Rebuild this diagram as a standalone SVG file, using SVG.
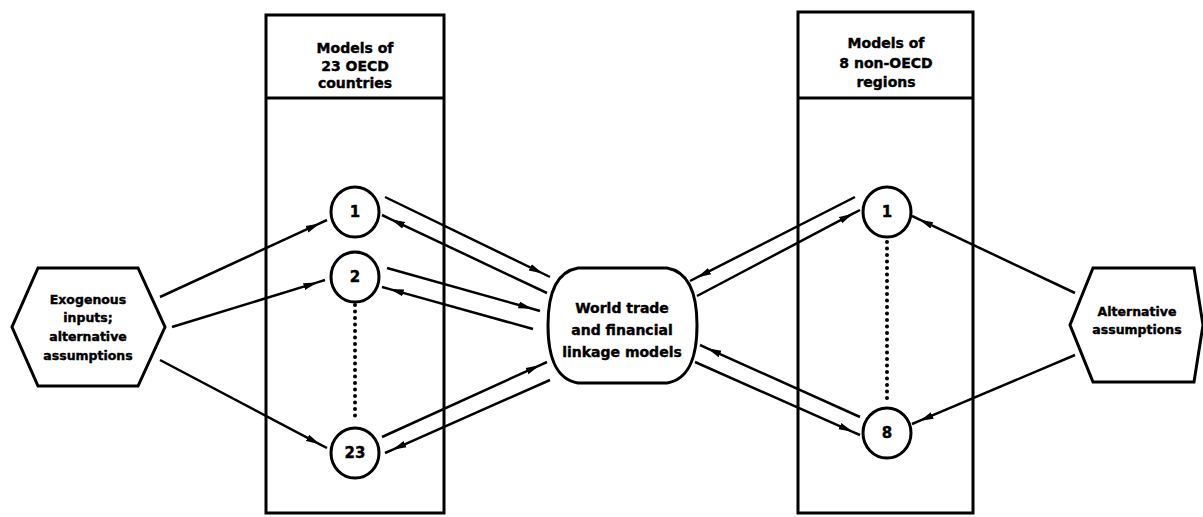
<svg xmlns="http://www.w3.org/2000/svg" width="1203" height="517" viewBox="0 0 1203 517">
<style>
.box{fill:none;stroke:#000;stroke-width:3}
.node{fill:#fff;stroke:#000;stroke-width:3}
.t{font-family:"DejaVu Sans","Liberation Sans",sans-serif;font-weight:bold;fill:#000;stroke:#000;stroke-width:0.4;text-anchor:middle}
.hdr{font-size:14px}
.sm{font-size:12.5px}
.num{font-size:15px}
.c{fill:none;stroke:#000;stroke-width:2.5;marker-mid:url(#ah)}
.dots{fill:none;stroke:#000;stroke-width:4;stroke-linecap:round;stroke-dasharray:0 6.5}
</style>
<defs>
<marker id="ah" markerUnits="userSpaceOnUse" markerWidth="16" markerHeight="10" viewBox="-14 -5 16 10" refX="0" refY="0" orient="auto">
<path d="M-14,-3.5 L0,0 L-14,3.5 Z" fill="#000"/>
</marker>
</defs>
<rect width="1203" height="517" fill="#fff"/>

<g id="oecd-box">
<rect class="box" x="266" y="15" width="178" height="498"/>
<line class="box" x1="266" y1="98" x2="444" y2="98"/>
<text class="t hdr" x="355" y="53">Models of</text>
<text class="t hdr" x="355" y="71">23 OECD</text>
<text class="t hdr" x="355" y="88">countries</text>
</g>

<g id="nonoecd-box">
<rect class="box" x="798" y="12" width="175" height="501"/>
<line class="box" x1="798" y1="98" x2="973" y2="98"/>
<text class="t hdr" x="886" y="48">Models of</text>
<text class="t hdr" x="886" y="68">8 non-OECD</text>
<text class="t hdr" x="886" y="87">regions</text>
</g>

<g id="exog">
<polygon class="node" points="38,268 138,268 165,327 138,386 38,386 12,327"/>
<text class="t sm" x="88" y="304">Exogenous</text>
<text class="t sm" x="88" y="322">inputs;</text>
<text class="t sm" x="88" y="341">alternative</text>
<text class="t sm" x="88" y="360">assumptions</text>
</g>

<g id="alt">
<polygon class="node" points="1093,268 1194,268 1203,325 1194,382 1093,382 1070,325"/>
<text class="t sm" x="1137" y="316">Alternative</text>
<text class="t sm" x="1137" y="334">assumptions</text>
</g>

<g id="world">
<path class="node" d="M578,268 L667,268 C690,272 697,295 697,325 C697,356 690,379 667,383 L578,383 C555,379 548,356 548,325 C548,295 555,272 578,268 Z"/>
<text class="t hdr" x="622" y="313">World trade</text>
<text class="t hdr" x="622" y="335">and financial</text>
<text class="t hdr" x="622" y="357">linkage models</text>
</g>

<g id="oecd-1"><ellipse class="node" cx="355" cy="212" rx="24" ry="25"/><text class="t num" x="355" y="217">1</text></g>
<g id="oecd-2"><ellipse class="node" cx="355" cy="277" rx="24" ry="25"/><text class="t num" x="355" y="282">2</text></g>
<g id="oecd-23"><ellipse class="node" cx="355" cy="453" rx="24" ry="25"/><text class="t num" x="355" y="458">23</text></g>
<g id="non-1"><ellipse class="node" cx="887" cy="212" rx="24" ry="25"/><text class="t num" x="887" y="217">1</text></g>
<g id="non-8"><ellipse class="node" cx="887" cy="433" rx="24" ry="25"/><text class="t num" x="887" y="438">8</text></g>

<g id="connectors">
<path class="dots" d="M355,305 L355,421"/>
<path class="dots" d="M887,242 L887,404"/>
<path class="c" d="M160,297 L319.7,223.4 L327,220"/>
<path class="c" d="M172,327 L317.4,282.4 L325,280"/>
<path class="c" d="M160,360 L319.9,444.3 L327,448"/>
<path class="c" d="M385,197 L542.8,273.5 L550,277"/>
<path class="c" d="M547,293 L391,219.3 L382,215"/>
<path class="c" d="M387,268 L532.3,308.8 L540,311"/>
<path class="c" d="M533,329 L389.7,289.1 L382,287"/>
<path class="c" d="M382,437 L539.7,365.3 L547,362"/>
<path class="c" d="M550,380 L392.3,449.8 L385,453"/>
<path class="c" d="M855,197 L697.1,277.4 L690,281"/>
<path class="c" d="M697,296 L852.9,213.7 L860,210"/>
<path class="c" d="M860,417 L707.3,348.3 L700,345"/>
<path class="c" d="M695,362 L852.7,431.8 L860,435"/>
<path class="c" d="M1075,293 L919.2,219.4 L912,216"/>
<path class="c" d="M1075,355 L919.4,420.9 L912,424"/>
</g>
</svg>
